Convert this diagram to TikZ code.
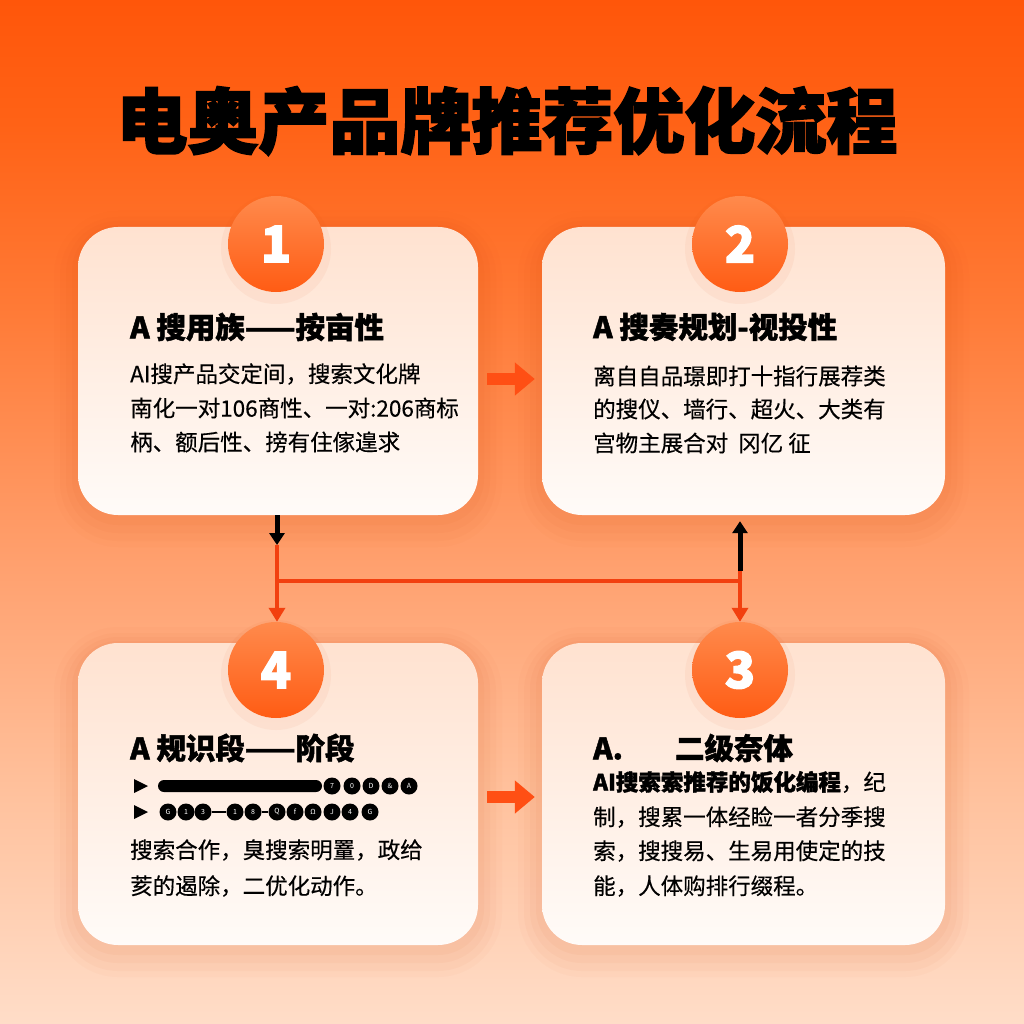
\documentclass[tikz,border=0pt]{standalone}
\usepackage{fontspec}
\setmainfont{Noto Sans CJK SC}
\newfontfamily\heavy{Noto Sans CJK SC}[BoldFeatures={FakeBold=2.5}]
\newfontfamily\semi{Noto Sans CJK SC}[BoldFeatures={FakeBold=1.5}]
\newfontfamily\bodyf{Noto Sans CJK SC}[UprightFeatures={FakeBold=0.35}]
\usetikzlibrary{arrows.meta,calc}
\definecolor{bg0}{HTML}{FFDDC8}
\definecolor{bg1}{HTML}{FFC29E}
\definecolor{bg2}{HTML}{FFA06E}
\definecolor{bg3}{HTML}{FF7A36}
\definecolor{bg4}{HTML}{FF6216}
\definecolor{bg5}{HTML}{FF560A}
\definecolor{cardtop}{HTML}{FFE2D0}
\definecolor{cardbot}{HTML}{FFFBF8}
\definecolor{cirtop}{HTML}{FF8A4C}
\definecolor{cirbot}{HTML}{FF5C14}
\definecolor{arrc}{HTML}{FF4F14}
\definecolor{redc}{HTML}{F2400F}
\definecolor{shc}{HTML}{D9480F}
\pgfdeclareverticalshading{bgshade}{100bp}{color(0bp)=(bg0); color(25bp)=(bg0); color(36bp)=(bg1); color(47.5bp)=(bg2); color(60bp)=(bg3); color(69bp)=(bg4); color(75bp)=(bg5); color(100bp)=(bg5)}
\tikzset{
  halo/.style={
    preaction={draw=shc, draw opacity=0.025, line width=48pt, transform canvas={yshift=-8pt}},
    preaction={draw=shc, draw opacity=0.03, line width=36pt, transform canvas={yshift=-8pt}},
    preaction={draw=shc, draw opacity=0.035, line width=24pt, transform canvas={yshift=-6pt}},
    preaction={draw=shc, draw opacity=0.04, line width=12pt, transform canvas={yshift=-4pt}}},
  card/.style={rectangle, rounded corners=40pt, top color=cardtop, bottom color=cardbot, inner sep=0, halo},
  numc/.style={circle, minimum size=96pt, inner sep=0, top color=cirtop, bottom color=cirbot, text=white,
    font=\heavy\fontsize{50}{50}\selectfont\bfseries,
    preaction={draw=shc, draw opacity=0.05, line width=14pt, transform canvas={yshift=-5pt}}},
  head/.style={anchor=west, inner sep=0, font=\semi\fontsize{29.5}{29.5}\selectfont\bfseries},
  body/.style={anchor=west, inner sep=0, font=\bodyf\fontsize{22.5}{22.5}\selectfont},
  dot/.style={circle, fill=black, minimum size=17pt, inner sep=0, text=white, font=\fontsize{7}{7}\selectfont},
  bigarrow/.style={draw=arrc, line width=12pt, -{Triangle[length=20pt,width=32pt]}},
  redline/.style={draw=redc, line width=4.5pt},
  redarrow/.style={redline, -{Triangle[length=14pt,width=16pt]}},
  blkarrow/.style={draw=black, line width=5pt, -{Triangle[length=12pt,width=15pt]}}
}
\begin{document}
\begin{tikzpicture}[x=1pt,y=-1pt]
\shade[shading=bgshade] (0,0) rectangle (1024,1024);
\useasboundingbox (0,0) rectangle (1024,1024);

\node[inner sep=0, font=\heavy\fontsize{71}{71}\selectfont\bfseries] (title) at (507,121) {电奥产品牌推荐优化流程};

% cards
\node[card, minimum width=400pt, minimum height=288pt] (b1) at (278,371) {};
\node[card, minimum width=403pt, minimum height=288pt] (b2) at (743.5,371) {};
\node[card, minimum width=400pt, minimum height=302pt] (b4) at (278,794) {};
\node[card, minimum width=403pt, minimum height=302pt] (b3) at (743.5,794) {};

% connectors between rows
\coordinate (j1) at (277,581);
\coordinate (j2) at (740,581);
\coordinate (k1) at (277,545);
\coordinate (k2) at (740,571);

% number circles
\node[numc] (c1) at (276,244) {1};
\node[numc] (c2) at (740,244) {2};
\node[numc] (c4) at (276,670) {4};
\node[numc] (c3) at (740,670) {3};

\draw[blkarrow] (b1.south -| k1) -- (k1);
\draw[redarrow] (k1) -- (c4.north -| k1);
\draw[redline] (j1) -- (j2);
\draw[redarrow] (j2) -- (c3.north -| j2);
\draw[redline] (j2) -- (k2);
\draw[blkarrow] (k2) -- ($(b2.south -| k2)+(0,6)$);

\draw[bigarrow] ([shift={(9,8)}]b1.east) -- ([shift={(-7,8)}]b2.west);
\draw[bigarrow] ([shift={(9,3)}]b4.east) -- ([shift={(-7,3)}]b3.west);

% card 1
\node[head] (h1) at (130,327) {A 搜用族——按亩性};
\node[body] (t1a) at (130,374) {AI搜产品交定间，搜索文化牌};
\node[body] (t1b) at (130,408) {南化一对106商性、一对:206商标};
\node[body] (t1c) at (130,442) {柄、额后性、搒有住傢遑求};

% card 2
\node[head] (h2) at (593,327) {A 搜奏规划-视投性};
\node[body] (t2a) at (593,376) {离自自品璟即打十指行展荐类};
\node[body] (t2b) at (593,409) {的搜仪、墙行、超火、大类有};
\node[body] (t2c) at (593,443) {宫物主展合对\ \ 冈亿 征};

% card 4
\node[head] (h4) at (130,748) {A 规识段——阶段};
\fill (134,779) -- (148,786) -- (134,793) -- cycle;
\fill (134,805) -- (148,812) -- (134,819) -- cycle;
\node[fill=black, rounded corners=6pt, minimum width=164pt, minimum height=12pt, inner sep=0] (bar) at (240,786) {};
\foreach \x/\g [count=\i] in {332/7,352/0,371/D,390/\&,409/A} {
  \node[dot] (r1-\i) at (\x,786) {\g};
}
\foreach \x/\g [count=\i] in {168/G,186/1,203/3,235/1,253/8,277/Q,295/f,313/Ω,332/J,350/4,370/G} {
  \node[dot] (r2-\i) at (\x,812) {\g};
}
\draw[line width=2.5pt] (r2-3.east) -- (r2-4.west);
\draw[line width=2.5pt] (r2-5.east) -- (r2-6.west);
\node[body] (t4a) at (130,850) {搜索合作，臭搜索明罿，政给};
\node[body] (t4b) at (130,886) {荄的遏除，二优化动作。};

% card 3
\node[head] (h3) at (593,748) {A.\hspace{52pt}二级奈体};
\node[body] (t3a) at (593,782) {{\semi\bfseries AI搜索索推荐的饭化编程}，纪};
\node[body] (t3b) at (593,817) {制，搜累一体经睑一者分季搜};
\node[body] (t3c) at (593,851) {索，搜搜易、生易用使定的技};
\node[body] (t3d) at (593,886) {能，人体购排行缀程。};
\end{tikzpicture}
\end{document}
